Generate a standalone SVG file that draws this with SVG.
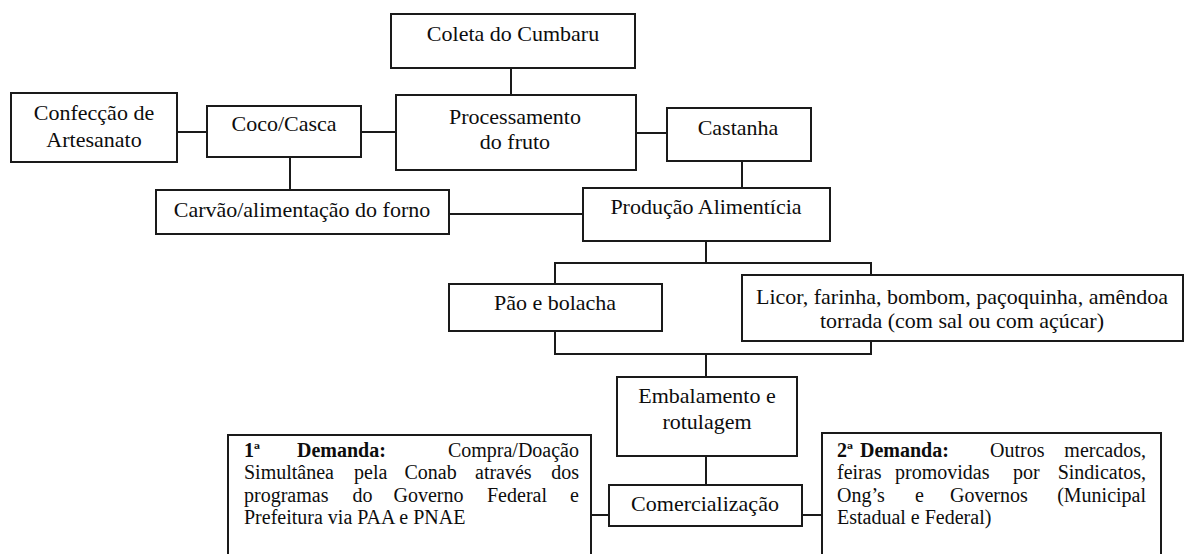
<svg xmlns="http://www.w3.org/2000/svg" width="1185" height="554" viewBox="0 0 1185 554">
<style>
.box{fill:#fff;stroke:#1a1a1a;stroke-width:2}
.t{font-family:"Liberation Serif","Times New Roman",serif;font-size:22px;fill:#0d0d0d;text-anchor:middle}
.d{font-family:"Liberation Serif","Times New Roman",serif;font-size:20px;fill:#0d0d0d}
.b{font-weight:bold}
.e{text-anchor:end}
#connectors path{fill:none;stroke:#1a1a1a;stroke-width:2}
</style>
<rect width="1185" height="554" fill="#fff"/>
<g id="connectors">
<path d="M511 68V95"/>
<path d="M177 132H207"/>
<path d="M361 132H396"/>
<path d="M636 133H667"/>
<path d="M290 157V190"/>
<path d="M449 214H583"/>
<path d="M742 161V188"/>
<path d="M706 241V263M555 284V263H871V275"/>
<path d="M555 331V354H871V341M706 354V377"/>
<path d="M706 456V485"/>
<path d="M591 515H609"/>
<path d="M802 515H822"/>
</g>
<g id="coleta"><rect class="box" x="391" y="14" width="244" height="54"/><text class="t" x="513" y="41">Coleta do Cumbaru</text></g>
<g id="processamento"><rect class="box" x="396" y="95" width="240" height="75"/><text class="t" x="515" y="124">Processamento</text><text class="t" x="515" y="149">do fruto</text></g>
<g id="confeccao"><rect class="box" x="11" y="93" width="166" height="69"/><text class="t" x="94" y="120">Confecção de</text><text class="t" x="94" y="147">Artesanato</text></g>
<g id="coco"><rect class="box" x="207" y="106" width="154" height="51"/><text class="t" x="284" y="131">Coco/Casca</text></g>
<g id="castanha"><rect class="box" x="667" y="108" width="144" height="53"/><text class="t" x="738" y="135">Castanha</text></g>
<g id="carvao"><rect class="box" x="156" y="190" width="293" height="44"/><text class="t" x="302" y="217">Carvão/alimentação do forno</text></g>
<g id="producao"><rect class="box" x="583" y="188" width="247" height="53"/><text class="t" x="706" y="214">Produção Alimentícia</text></g>
<g id="pao"><rect class="box" x="449" y="284" width="213" height="47"/><text class="t" x="555" y="310">Pão e bolacha</text></g>
<g id="licor"><rect class="box" x="742" y="275" width="441" height="66"/><text class="t" x="962" y="304">Licor, farinha, bombom, paçoquinha, amêndoa</text><text class="t" x="962" y="328">torrada (com sal ou com açúcar)</text></g>
<g id="embalamento"><rect class="box" x="617" y="377" width="180" height="79"/><text class="t" x="707" y="403">Embalamento e</text><text class="t" x="707" y="429">rotulagem</text></g>
<g id="comercializacao"><rect class="box" x="609" y="485" width="193" height="41"/><text class="t" x="705" y="511">Comercialização</text></g>
<g id="demanda1"><rect class="box" x="228" y="435" width="363" height="130"/>
<text class="d b" x="244" y="456.5">1ª</text>
<text class="d b" x="297" y="456.5">Demanda:</text>
<text class="d e" x="579" y="456.5">Compra/Doação</text>
<text class="d" x="244" y="479">Simultânea</text>
<text class="d" x="354" y="479">pela</text>
<text class="d" x="404.5" y="479">Conab</text>
<text class="d" x="475" y="479">através</text>
<text class="d e" x="579" y="479">dos</text>
<text class="d" x="244" y="501.5">programas</text>
<text class="d" x="352.5" y="501.5">do</text>
<text class="d" x="393.5" y="501.5">Governo</text>
<text class="d" x="487" y="501.5">Federal</text>
<text class="d e" x="579" y="501.5">e</text>
<text class="d" x="244" y="524">Prefeitura via PAA e PNAE</text>
</g>
<g id="demanda2"><rect class="box" x="822" y="433" width="339" height="132"/>
<text class="d b" x="837" y="456.5">2ª</text>
<text class="d b" x="860" y="456.5">Demanda:</text>
<text class="d" x="990" y="456.5">Outros</text>
<text class="d e" x="1146" y="456.5">mercados,</text>
<text class="d" x="837" y="479">feiras</text>
<text class="d" x="895" y="479">promovidas</text>
<text class="d" x="1013" y="479">por</text>
<text class="d e" x="1146" y="479">Sindicatos,</text>
<text class="d" x="837" y="501.5">Ong’s</text>
<text class="d" x="915" y="501.5">e</text>
<text class="d" x="950" y="501.5">Governos</text>
<text class="d e" x="1146" y="501.5">(Municipal</text>
<text class="d" x="837" y="524">Estadual e Federal)</text>
</g>
</svg>
